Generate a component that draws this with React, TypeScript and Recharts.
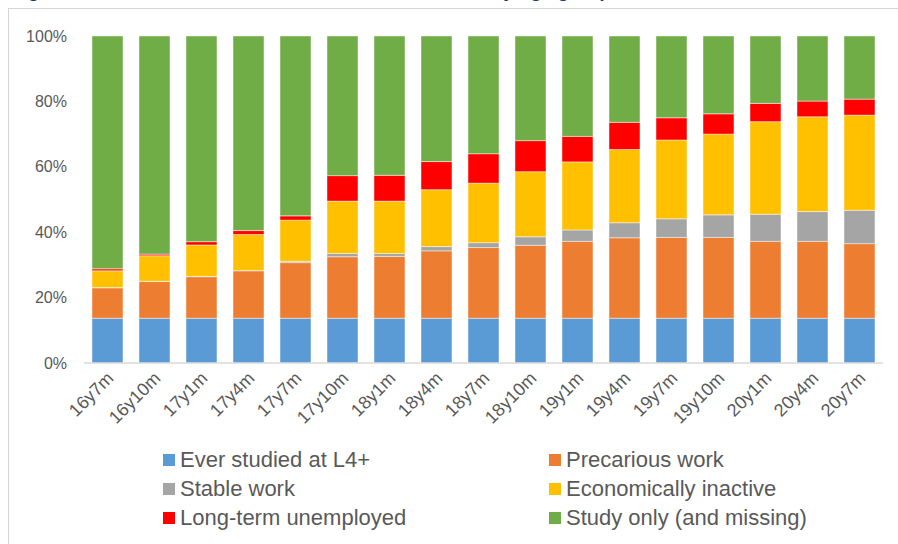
import { Bar, BarChart, XAxis, YAxis } from "recharts";

const months = [
  "16y7m", "16y10m", "17y1m", "17y4m", "17y7m", "17y10m", "18y1m", "18y4m", "18y7m",
  "18y10m", "19y1m", "19y4m", "19y7m", "19y10m", "20y1m", "20y4m", "20y7m",
];

const everStudied = [13.7, 13.7, 13.7, 13.7, 13.7, 13.7, 13.7, 13.7, 13.7, 13.7, 13.7, 13.7, 13.7, 13.7, 13.7, 13.7, 13.7];
const precarious = [9.3, 11.2, 12.7, 14.5, 17.0, 18.8, 18.9, 20.6, 21.6, 22.3, 23.5, 24.6, 24.7, 24.7, 23.5, 23.5, 22.8];
const stable = [0.1, 0.1, 0.1, 0.1, 0.4, 1.0, 0.9, 1.3, 1.5, 2.6, 3.5, 4.6, 5.7, 6.9, 8.3, 9.1, 10.2];
const inactive = [5.1, 7.8, 9.6, 11.0, 12.6, 16.0, 16.0, 17.4, 18.2, 19.9, 20.8, 22.4, 24.1, 24.7, 28.3, 29.0, 29.1];
const unemployed = [0.6, 0.5, 1.0, 1.2, 1.3, 7.8, 7.9, 8.6, 9.0, 9.5, 7.8, 8.3, 6.8, 6.2, 5.6, 4.8, 4.9];
const studyOnly = [71.2, 66.7, 62.9, 59.5, 55.0, 42.7, 42.6, 38.4, 36.0, 32.0, 30.7, 26.4, 25.0, 23.8, 20.6, 19.9, 19.3];

const yTicks = [0, 20, 40, 60, 80, 100];

const series = [
  { key: "ever", name: "Ever studied at L4+", color: "#5B9BD5", values: everStudied },
  { key: "precarious", name: "Precarious work", color: "#ED7D31", values: precarious },
  { key: "stable", name: "Stable work", color: "#A5A5A5", values: stable },
  { key: "inactive", name: "Economically inactive", color: "#FFC000", values: inactive },
  { key: "unemployed", name: "Long-term unemployed", color: "#FF0000", values: unemployed },
  { key: "study", name: "Study only (and missing)", color: "#70AD47", values: studyOnly },
];

const data = months.map((m, i) => {
  const row: Record<string, string | number> = { month: m };
  series.forEach((s) => (row[s.key] = s.values[i]));
  return row;
});

// legend is laid out in two columns, row by row
const legendOrder = [
  ["ever", "precarious"],
  ["stable", "inactive"],
  ["unemployed", "study"],
];

const font = "'Liberation Sans', Arial, sans-serif";

function MonthTick({ x, y, payload }: any) {
  return (
    <g transform={`translate(${x},${y})`}>
      <text
        x={0}
        y={0}
        dx={-1}
        dy={11}
        textAnchor="end"
        transform="rotate(-45)"
        fill="#595959"
        fontSize={18}
        fontFamily={font}
      >
        {payload.value}
      </text>
    </g>
  );
}

export default function App() {
  return (
    <div style={{ position: "relative", width: 898, height: 544, overflow: "hidden", background: "#fff" }}>
      <style>{"body{margin:0}"}</style>
      {/* title sits mostly above the crop, only its descenders show */}
      <div
        style={{
          position: "absolute",
          left: 12,
          top: -19,
          fontFamily: font,
          fontSize: 19,
          lineHeight: "19px",
          fontWeight: "bold",
          fontStyle: "italic",
          color: "#1F3864",
          whiteSpace: "nowrap",
        }}
      >
        Figure 5: Main activities of the cohort at each month, by age group
      </div>
      <div
        style={{
          position: "absolute",
          left: 8,
          top: 8,
          width: 920,
          height: 600,
          border: "1px solid #d4d4d4",
        }}
      />
      <div style={{ position: "absolute", left: 0, top: 0 }}>
        <BarChart
          width={898}
          height={430}
          data={data}
          margin={{ top: 36, right: 15, left: 0, bottom: 0 }}
          barCategoryGap="17%"
        >
          <XAxis
            dataKey="month"
            height={67}
            tickLine={false}
            axisLine={{ stroke: "#d9d9d9", strokeWidth: 1.5 }}
            tick={<MonthTick />}
            interval={0}
          />
          <YAxis
            width={84}
            domain={[0, 100]}
            ticks={yTicks}
            tickFormatter={(v) => `${v}%`}
            axisLine={false}
            tickLine={false}
            tickMargin={11}
            tick={{ fill: "#595959", fontSize: 16, fontFamily: font }}
          />
          {series.map((s) => (
            <Bar
              key={s.key}
              dataKey={s.key}
              name={s.name}
              stackId="a"
              fill={s.color}
              stroke="#ffffff"
              strokeOpacity={0.45}
              strokeWidth={1}
              isAnimationActive={false}
            />
          ))}
        </BarChart>
      </div>
      {legendOrder.map((row, r) =>
        row.map((key, c) => {
          const s = series.find((x) => x.key === key)!;
          return (
            <div
              key={key}
              style={{
                position: "absolute",
                left: c === 0 ? 163 : 549,
                top: 446 + r * 29,
                height: 28,
                display: "flex",
                alignItems: "center",
                fontFamily: font,
                fontSize: 22,
                color: "#595959",
                whiteSpace: "nowrap",
              }}
            >
              <span style={{ width: 12, height: 12, background: s.color, marginRight: 5, display: "inline-block" }} />
              {s.name}
            </div>
          );
        })
      )}
    </div>
  );
}
